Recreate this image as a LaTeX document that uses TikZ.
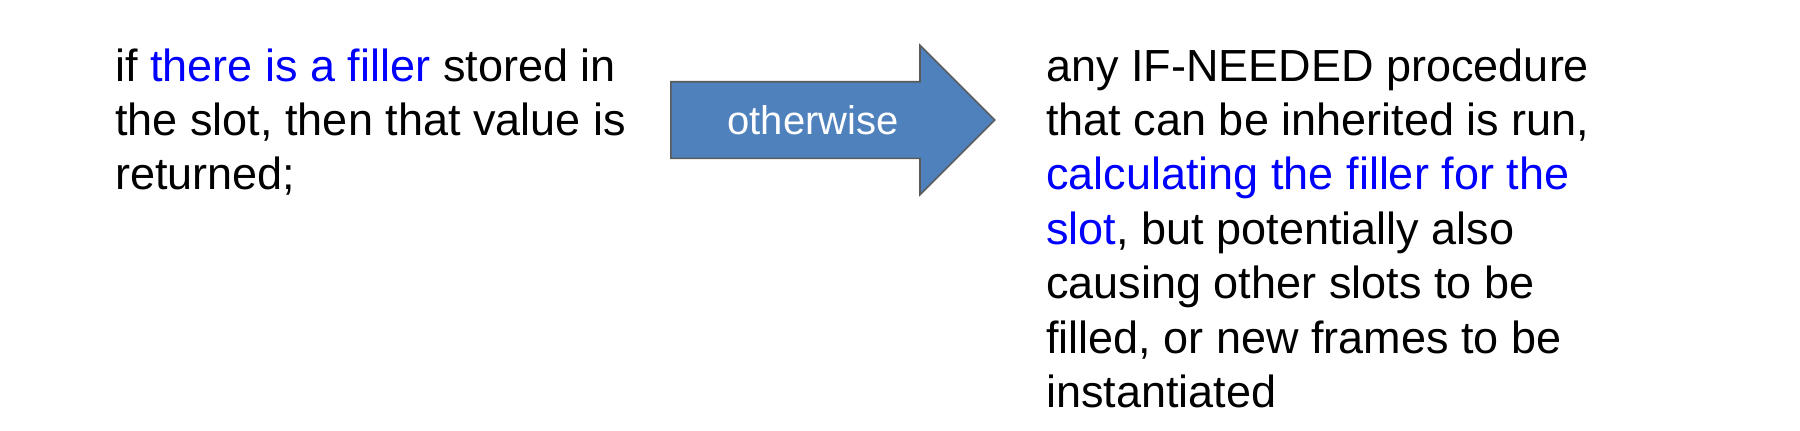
\documentclass[tikz,border=0pt]{standalone}
\usepackage{fontspec}
\setmainfont{Liberation Sans}
\usetikzlibrary{shapes.arrows,positioning}
\definecolor{arrowblue}{HTML}{4F81BD}
\definecolor{arrowline}{HTML}{5A5A5A}
\definecolor{hiblue}{HTML}{0000FF}
\tikzset{
  txt/.style={anchor=north west, align=left, inner sep=0pt,
              font=\fontsize{22.5}{27.2}\selectfont},
  bigarrow/.style={single arrow, draw=arrowline, line width=0.8pt, fill=arrowblue,
              inner xsep=0pt, inner ysep=18.75pt, minimum height=162pt,
              minimum width=74pt, single arrow head extend=18.25pt, anchor=tail},
  arrowtext/.style={text=white, inner sep=0pt, font=\fontsize{20}{22}\selectfont},
}

\begin{document}
\begin{tikzpicture}[x=0.5pt,y=-0.5pt]
  \useasboundingbox (0,0) rectangle (1800,430);
  \node[bigarrow] (arr) at (670,120) {};
  \node[arrowtext] (otherwise) at (813,120) {otherwise};
  \node[txt] (ifpart) at (115,48) {if \textcolor{hiblue}{there is a filler} stored in\\
    the slot, then that value is\\ returned;};
  \node[txt] (elsepart) at (1046,48) {any IF-NEEDED procedure\\
    that can be inherited is run,\\
    \textcolor{hiblue}{calculating the filler for the}\\
    \textcolor{hiblue}{slot}, but potentially also\\
    causing other slots to be\\
    filled, or new frames to be\\
    instantiated};
\end{tikzpicture}
\end{document}
